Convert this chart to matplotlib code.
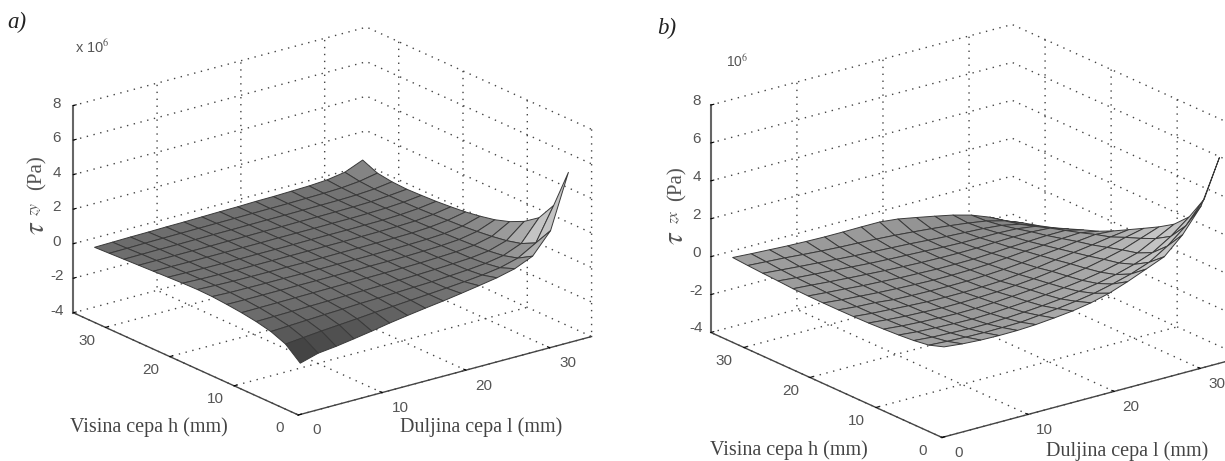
import numpy as np
import matplotlib
matplotlib.use("Agg")
import matplotlib.pyplot as plt
from matplotlib.colors import LinearSegmentedColormap
from matplotlib.transforms import Affine2D

# mreza tocaka povrsine (mm), red = visina h, stupac = duljina l
len_mm = [1.0, 3.13, 5.27, 7.4, 9.53, 11.67, 13.8, 15.93, 18.07, 20.2, 22.33, 24.47, 26.6, 28.73, 30.87, 33.0]
hgt_mm = [1.0, 3.29, 5.57, 7.86, 10.14, 12.43, 14.71, 17.0, 19.29, 21.57, 23.86, 26.14, 28.43, 30.71, 33.0]

tau_zy = [
    [-1.3, -1.0, -.88, -.72, -.55, -.36, -.2, -.05, .09, .25, .42, .6, .85, 1.3, 2.5, 5.6],
    [-.58, -.48, -.38, -.3, -.22, -.13, -.06, .02, .09, .17, .26, .37, .52, .8, 1.4, 3.3],
    [-.24, -.19, -.14, -.09, -.05, 0, .03, .07, .11, .15, .21, .28, .38, .56, .98, 2.2],
    [-.05, -.03, -.01, .01, .03, .06, .08, .1, .13, .16, .2, .25, .31, .44, .76, 1.6],
    [.08, .09, .1, .11, .12, .13, .14, .15, .16, .17, .19, .23, .28, .38, .62, 1.2],
    [.17, .16, .16, .16, .16, .16, .16, .16, .17, .17, .18, .21, .25, .33, .52, .92],
    [.24, .2, .19, .18, .18, .17, .17, .17, .17, .17, .18, .2, .23, .29, .44, .74],
    [.26, .22, .19, .18, .17, .17, .16, .16, .17, .17, .18, .19, .21, .27, .39, .6],
    [.24, .2, .18, .16, .16, .16, .16, .16, .16, .16, .17, .18, .2, .24, .34, .51],
    [.2, .18, .16, .15, .15, .15, .15, .15, .16, .16, .16, .17, .18, .22, .3, .44],
    [.16, .15, .14, .14, .14, .14, .14, .15, .15, .15, .16, .16, .18, .21, .28, .4],
    [.12, .12, .12, .12, .12, .13, .13, .14, .14, .15, .15, .16, .17, .2, .27, .37],
    [.08, .09, .1, .1, .11, .12, .12, .13, .14, .14, .15, .16, .17, .2, .27, .41],
    [.04, .05, .07, .08, .09, .1, .11, .12, .13, .14, .15, .17, .19, .23, .33, .53],
    [0, .02, .04, .05, .07, .08, .1, .12, .13, .16, .17, .2, .23, .3, .47, .9],
]

tau_zx = [
    [.5, .4, .34, .32, .33, .38, .47, .58, .75, 1.0, 1.35, 1.75, 2.15, 3.05, 4.3, 6.6],
    [.23, .17, .13, .11, .12, .14, .24, .34, .47, .63, .86, 1.13, 1.49, 2.09, 2.9, 4.05],
    [.11, .03, -.01, -.05, -.05, -.01, .05, .13, .23, .37, .53, .74, 1.02, 1.38, 1.98, 2.75],
    [.04, -.05, -.1, -.14, -.16, -.13, -.07, 0, .09, .2, .33, .5, .73, 1.0, 1.5, 2.0],
    [-.01, -.1, -.16, -.2, -.23, -.22, -.17, -.1, -.02, .07, .2, .35, .56, .8, 1.15, 1.5],
    [-.05, -.14, -.21, -.25, -.29, -.29, -.26, -.22, -.14, -.05, .08, .22, .37, .57, .84, 1.06],
    [-.07, -.16, -.22, -.28, -.33, -.35, -.35, -.32, -.28, -.18, -.08, .07, .2, .34, .5, .63],
    [-.08, -.17, -.22, -.32, -.36, -.38, -.39, -.38, -.34, -.28, -.19, -.07, .03, .16, .27, .2],
    [-.08, -.17, -.24, -.31, -.36, -.4, -.43, -.43, -.41, -.37, -.29, -.2, -.14, -.05, 0, -.18],
    [-.07, -.15, -.22, -.3, -.35, -.41, -.44, -.47, -.47, -.46, -.41, -.35, -.3, -.25, -.24, -.47],
    [-.05, -.12, -.2, -.27, -.33, -.39, -.44, -.48, -.5, -.51, -.5, -.46, -.43, -.42, -.48, -.78],
    [0, -.09, -.16, -.23, -.3, -.37, -.42, -.46, -.5, -.55, -.58, -.58, -.58, -.62, -.75, -1.08],
    [.04, -.04, -.12, -.19, -.26, -.33, -.38, -.43, -.48, -.55, -.61, -.66, -.71, -.8, -1.0, -1.33],
    [.09, .03, -.03, -.11, -.18, -.24, -.28, -.33, -.39, -.47, -.56, -.66, -.78, -.93, -1.18, -1.55],
    [.15, .09, .04, -.01, -.04, -.06, -.06, -.05, -.05, -.15, -.33, -.52, -.72, -.98, -1.35, -1.82],
]

xy_ticks = [0, 10, 20, 30]
z_ticks = [-4, -2, 0, 2, 4, 6, 8]

W, H = 1225, 461
TXT = "#555555"

plt.rcParams["font.family"] = ["Liberation Sans", "DejaVu Sans"]
plt.rcParams["mathtext.fontset"] = "stix"
plt.rcParams["axes.unicode_minus"] = False
plt.rcParams["grid.color"] = "#444444"
plt.rcParams["grid.linewidth"] = 1.0
plt.rcParams["grid.linestyle"] = (0, (1, 4))

# svijetla strana povrsine ne ide do bijele
surf_cmap = LinearSegmentedColormap.from_list("surf", ["#000000", "#c4c4c4"])


def nudge(ax, axis, dx, dy):
    # Axis3D svaki put vrati transData na oznake, pa se set_transform mora ugasiti
    shifted = ax.transData + Affine2D().translate(dx, dy)
    for tick in axis.get_major_ticks():
        tick.label1.set_transform(shifted)
        tick.label1.set_transform = lambda *_: None


def draw_panel(fig, z_vals, side, left, bottom, box_z, vmin, vmax, shifts):
    ax = fig.add_axes([left / W, bottom / H, side / W, side / H], projection="3d")
    ax.patch.set_alpha(0)
    ax.set_proj_type("ortho")
    ax.view_init(elev=20.4, azim=-127.5)
    ax.set_box_aspect((1, 1, box_z))

    L, Hg = np.meshgrid(len_mm, hgt_mm)
    ax.plot_surface(L, Hg, np.array(z_vals), rstride=1, cstride=1, cmap=surf_cmap,
                    vmin=vmin, vmax=vmax, edgecolor="#3a3a3a", linewidth=0.7,
                    shade=False, antialiased=True)

    ax.set_xlim(0, 35, view_margin=0)
    ax.set_ylim(0, 35, view_margin=0)
    ax.set_zlim(-4, 8, view_margin=0)
    ax.set_xticks(xy_ticks)
    ax.set_yticks(xy_ticks)
    ax.set_zticks(z_ticks)
    ax.tick_params(labelsize=11, labelcolor=TXT, pad=1)

    for axis, shift in zip((ax.xaxis, ax.yaxis, ax.zaxis), shifts):
        axis.set_pane_color((1, 1, 1, 0))
        axis.pane.set_edgecolor("none")
        axis.line.set_color("#444444")
        axis.line.set_linewidth(1.0)
        axis._axinfo["tick"]["inward_factor"] = 0.0
        axis._axinfo["tick"]["outward_factor"] = 0.12
        nudge(ax, axis, *shift)
    ax.zaxis.line.set_color("#666666")
    ax.zaxis.line.set_linewidth(1.5)
    return ax


fig = plt.figure(figsize=(W / 100, H / 100), dpi=100)

draw_panel(fig, tau_zy, 551, 49.5, -43, 0.598, -2.3, 1.93, [(8, 5), (-6, 6), (6, 8)])
draw_panel(fig, tau_zx, 572, 683.3, -63.7, 0.639, -6.2, 1.5, [(7, 5), (-7, 6), (8, 10)])


def put(x, y, s, **kw):
    # koordinate u pikselima slike, y od vrha
    fig.text(x / W, 1 - y / H, s, ha="center", va="center", **kw)


serif = ["Liberation Serif", "DejaVu Serif"]
put(17, 22, "a)", family=serif, style="italic", fontsize=16.5, color="#222222")
put(667, 28, "b)", family=serif, style="italic", fontsize=16.5, color="#222222")

put(149, 427, "Visina cepa h (mm)", family=serif, fontsize=14.5, color="#444444")
put(481, 427, "Duljina cepa l (mm)", family=serif, fontsize=14.5, color="#444444")
put(789, 450, "Visina cepa h (mm)", family=serif, fontsize=14.5, color="#444444")
put(1127, 451, "Duljina cepa l (mm)", family=serif, fontsize=14.5, color="#444444")

put(36, 228, r"$\tau$", fontsize=21, rotation=90, color=TXT)
put(36, 209, r"$\mathit{zy}$", fontsize=11, rotation=90, color=TXT)
put(37, 173, "(Pa)", family=serif, fontsize=15, rotation=90, color=TXT)
put(675, 238, r"$\tau$", fontsize=21, rotation=90, color=TXT)
put(675, 217, r"$\mathit{zx}$", fontsize=11, rotation=90, color=TXT)
put(677, 184, "(Pa)", family=serif, fontsize=15, rotation=90, color=TXT)

put(92, 47, r"x 10$^{6}$", fontsize=10.5, color=TXT)
put(737, 62, r"10$^{6}$", fontsize=10, color=TXT)

fig.savefig("out.png", dpi=100, facecolor="white")
